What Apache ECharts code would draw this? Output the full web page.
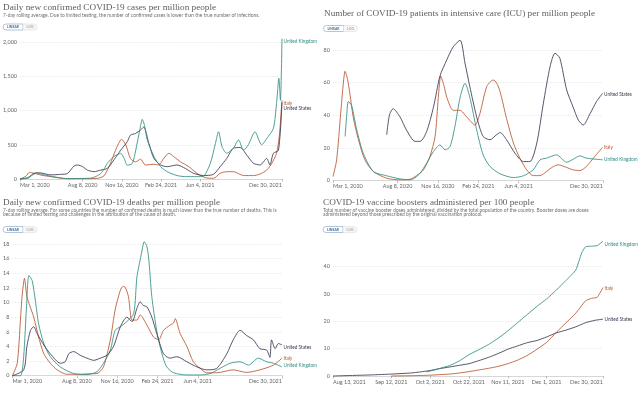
<!DOCTYPE html>
<html><head><meta charset="utf-8">
<script src="https://cdn.jsdelivr.net/npm/echarts@6/dist/echarts.min.js"></script>
<style>html,body{margin:0;padding:0;background:#fff}#c{width:640px;height:395px}</style>
</head><body><div id="c"></div>
<script>
// ---- tick labels ----
const dayTicks = [0,160,260,360,460,669];
const dayTickLabels = ['Mar 1, 2020','Aug 8, 2020','Nov 16, 2020','Feb 24, 2021','Jun 4, 2021','Dec 30, 2021'];
const boostTicks = [0,30,50,70,90,110,139];
const boostTickLabels = ['Aug 13, 2021','Sep 12, 2021','Oct 2, 2021','Oct 22, 2021','Nov 11, 2021','Dec 1, 2021','Dec 30, 2021'];
const countries = ['United Kingdom','Italy','United States'];

// ---- cases per million ([days since Mar 1 2020, value]) ----
const casesUK = [[0,0],[20,10],[30,50],[36,73],[42,90],[55,70],[79,40],[100,20],[121,5],[150,8],[180,12],[195,40],[206,80],[215,150],[223,230],[240,330],[250,360],[257,375],[266,300],[274,200],[287,230],[299,520],[308,780],[312,870],[318,780],[325,570],[342,330],[359,180],[376,107],[401,50],[426,34],[452,34],[469,44],[486,230],[499,520],[507,690],[516,470],[528,375],[545,450],[558,570],[571,420],[583,500],[600,690],[617,500],[630,590],[647,740],[655,1100],[661,1470],[665,1150],[669,2050]];
const casesIT = [[0,0],[15,40],[24,97],[36,83],[55,55],[79,34],[100,15],[121,5],[160,5],[198,10],[215,50],[231,230],[244,420],[252,520],[259,580],[270,500],[282,300],[295,250],[308,290],[320,205],[342,215],[354,205],[367,300],[380,375],[392,330],[410,250],[431,180],[452,83],[473,20],[494,10],[511,83],[528,107],[545,107],[571,50],[596,50],[613,73],[630,130],[643,230],[655,375],[662,620],[669,1150]];
const casesUS = [[0,0],[20,20],[36,83],[50,90],[79,60],[104,68],[121,80],[138,190],[147,205],[160,180],[172,130],[189,107],[206,130],[223,155],[240,280],[257,420],[274,545],[282,640],[295,665],[308,715],[316,760],[329,520],[342,300],[359,205],[376,180],[401,205],[422,155],[443,83],[469,50],[494,68],[511,180],[528,300],[545,450],[562,460],[579,350],[596,230],[613,205],[630,300],[638,205],[647,375],[660,420],[669,1120]];

// ---- ICU patients per million ----
const icuUK = [[30,27],[34,40],[38,48.4],[46,46],[59,31],[75,16.7],[100,5.5],[133,2.9],[166,1],[191,0.4],[203,1.6],[216,4.5],[232,10.6],[249,17.8],[265,21.8],[278,18.8],[290,20.8],[302,33],[315,51],[327,59.6],[339,51],[356,31],[372,15.7],[389,8.6],[414,4.1],[447,1.8],[472,2.9],[496,6.5],[513,12.7],[529,13.7],[554,15.7],[579,11.2],[595,13],[612,15.1],[628,13.7],[668,12.7]];
const icuIT = [[0,2.4],[9,12.6],[19,41],[25,58],[30,67],[36,62],[42,53],[50,39],[63,25],[79,12.7],[100,5.5],[133,1.4],[166,0.4],[191,0.8],[207,3],[224,6.5],[240,14.7],[253,27],[261,51],[267,64],[275,58],[282,51],[298,43],[315,43],[331,39],[352,34],[364,41],[381,57.6],[397,61.6],[405,60],[414,54.5],[430,38],[447,23],[463,13.7],[480,6.5],[496,3],[513,3],[529,5.5],[546,8.6],[558,9.6],[579,8],[595,6.5],[612,6.1],[628,8.6],[645,13.7],[668,20.4]];
const icuUS = [[133,28],[137,36],[141,41],[149,44],[166,39],[182,31],[203,24],[216,24],[232,30],[249,45],[265,64],[282,74],[298,82],[315,86],[327,72],[339,57.6],[356,39],[372,27],[389,25],[405,28],[414,29.4],[430,25],[451,16.7],[472,11.6],[488,11.6],[505,23],[521,47],[538,70],[550,78],[562,75],[579,55.5],[595,45],[608,37],[620,34],[637,41],[653,48.4],[668,53.5]];

// ---- deaths per million ----
const deathsUK = [[0,0],[20,0],[28,2.6],[35,9.4],[41,13.7],[49,13],[57,10.3],[65,7.1],[78,4.4],[94,2.6],[119,1.2],[152,0.3],[185,0.15],[210,0.55],[226,1.7],[243,3.5],[255,6.2],[268,6.7],[284,7.4],[301,8.5],[309,13.5],[317,15.8],[323,17.5],[327,18.3],[333,17.8],[338,16.2],[346,10.8],[358,6.2],[371,3],[383,1.2],[400,0.4],[433,0.1],[466,0.1],[491,0.3],[515,1],[540,1.7],[565,1.9],[586,1.45],[610,2.4],[631,1.9],[648,1.7],[669,1.2]];
const deathsIT = [[0,0],[12,1.7],[20,7.6],[24,10.8],[30,13.3],[36,10.8],[43,9.6],[53,8],[65,5.3],[78,3],[94,1.7],[111,0.8],[135,0.2],[168,0.2],[185,0.25],[210,0.3],[226,1.2],[243,4.9],[255,9],[268,11.7],[275,12.2],[280,12.1],[288,10.8],[297,7.6],[309,7.6],[317,8.3],[334,6.9],[350,5.3],[363,4.9],[375,6.2],[391,6.9],[400,7.2],[404,7.8],[416,5.8],[433,4],[449,1.9],[466,1],[482,0.4],[507,0.4],[548,0.8],[581,0.45],[614,0.8],[648,1.45],[669,2.4]];
const deathsUS = [[0,0],[28,0.8],[36,4],[45,6.2],[53,6.7],[61,5.8],[78,4.2],[94,3],[119,1.7],[131,1.9],[140,3],[152,3.3],[168,2.8],[185,2.4],[202,2.1],[218,2.4],[235,2.8],[251,4],[268,6.7],[284,8],[297,7.4],[309,9.2],[317,10.1],[325,9.6],[334,9.4],[346,8],[358,5.8],[375,3],[391,2.4],[408,2.6],[433,1.9],[458,1.2],[482,0.8],[507,1],[532,3],[548,4.9],[565,6.2],[581,5.5],[598,4.9],[614,3.7],[631,3.5],[639,2.5],[643,4.9],[652,3.7],[660,4.4],[669,4.2]];

// ---- boosters per 100 people ([days since Aug 13 2021, value]) ----
const boostUK = [[48,1.5],[50,1.8],[55,2.8],[60,3.8],[65,5.5],[70,7.8],[75,9.6],[80,11.5],[85,13.8],[90,16.5],[95,19.5],[100,22.5],[105,25.5],[110,28.2],[115,31.5],[120,35],[125,38.8],[128,45],[130,47.3],[133,47.5],[136,47.7],[139,49.3]];
const boostIT = [[30,0],[40,0.1],[50,0.3],[55,0.5],[60,0.7],[65,1.1],[70,1.6],[75,2.2],[80,2.8],[85,3.5],[90,4.5],[95,5.8],[100,7.5],[105,9.8],[110,12.3],[115,16],[120,19.5],[125,23],[130,27.5],[133,28.4],[136,28.8],[139,32.4]];
const boostUS = [[0,0],[10,0.2],[20,0.4],[30,0.7],[40,1.1],[45,1.5],[50,2],[55,2.7],[60,3.3],[65,3.9],[70,4.5],[75,5.6],[80,6.8],[85,8.2],[90,9.8],[95,11],[100,12.2],[105,13],[110,14.3],[115,15.8],[120,16.8],[125,18],[130,19.5],[135,20.4],[139,20.8]];

// ---- styling ----
const COL = {'United Kingdom':'#2f8f83','Italy':'#b9552f','United States':'#3b3850'};
const TITLE_FONT = '9.2px "Liberation Serif"';
const SUB_FONT = '4.9px Lato';
const AXIS_FS = 5.5;

const grids = [
  {left:19, top:42, width:263, height:137},
  {left:333, top:50, width:270, height:130.5},
  {left:12, top:244, width:270, height:131.7},
  {left:333, top:266.7, width:270, height:109.3}
];

function xAxisFor(i, max, ticks, labels){
  return {
    type:'value', gridIndex:i, min:0, max:max,
    axisLine:{show:true, lineStyle:{color:'#cfcfcf', width:0.8}},
    axisTick:{show:true, customValues:ticks, length:2.5, lineStyle:{color:'#999', width:0.6}},
    splitLine:{show:false},
    axisLabel:{customValues:ticks, fontSize:AXIS_FS, color:'#666', fontFamily:'Lato', margin:3,
      alignMinLabel:'left', alignMaxLabel:'right',
      formatter:(v)=>{const k=ticks.indexOf(v); return k>=0?labels[k]:'';}}
  };
}
function yAxisFor(i, max, interval, fmt){
  return {
    type:'value', gridIndex:i, min:0, max:max, interval:interval,
    axisLine:{show:false}, axisTick:{show:false},
    splitLine:{show:true, lineStyle:{color:'#d8d8d8', type:[1,1.5], width:0.7}},
    axisLabel:{fontSize:AXIS_FS, color:'#666', fontFamily:'Lato', margin:3, formatter:fmt}
  };
}
function line(name, i, data, off, extra){
  return Object.assign({
    type:'line', name:name, xAxisIndex:i, yAxisIndex:i, data:data,
    showSymbol:false, smooth:0.25, clip:false, animation:false,
    lineStyle:{color:COL[name], width:0.85}, itemStyle:{color:COL[name]},
    endLabel:{show:true, formatter:name, fontSize:4.7, fontFamily:'Lato', color:COL[name], distance:1.5, offset:off}
  }, extra||{});
}

function titleBlock(x, y, title, subs){
  const els = [{type:'text', left:x, top:y, style:{text:title, font:TITLE_FONT, fill:'#606060'}}];
  subs.forEach((s,k)=>els.push({type:'text', left:x, top:y+9.5+k*4.4, style:{text:s, font:SUB_FONT, fill:'#6f6f6f'}}));
  return els;
}
function buttons(x, y){
  return [
    {type:'rect', shape:{x:x, y:y, width:20, height:6, r:[3,0,0,3]}, style:{fill:'#fff', stroke:'#7f9fc0', lineWidth:0.6}},
    {type:'text', style:{text:'LINEAR', x:x+10, y:y+3.1, font:'bold 3.4px Lato', fill:'#3f6d9e', textAlign:'center', textVerticalAlign:'middle'}},
    {type:'rect', shape:{x:x+20, y:y, width:14, height:6, r:[0,3,3,0]}, style:{fill:'#f7f7f7', stroke:'#dddddd', lineWidth:0.6}},
    {type:'text', style:{text:'LOG', x:x+27, y:y+3.1, font:'3.4px Lato', fill:'#888', textAlign:'center', textVerticalAlign:'middle'}}
  ];
}

const graphic = [].concat(
  titleBlock(3, 3, 'Daily new confirmed COVID-19 cases per million people',
    ['7-day rolling average. Due to limited testing, the number of confirmed cases is lower than the true number of infections.']),
  buttons(3, 24),
  titleBlock(324, 9, 'Number of COVID-19 patients in intensive care (ICU) per million people', []),
  buttons(323.5, 25.5),
  titleBlock(3, 198, 'Daily new confirmed COVID-19 deaths per million people',
    ['7-day rolling average. For some countries the number of confirmed deaths is much lower than the true number of deaths. This is',
     'because of limited testing and challenges in the attribution of the cause of death.']),
  buttons(3, 226.5),
  titleBlock(323, 198.5, 'COVID-19 vaccine boosters administered per 100 people',
    ['Total number of vaccine booster doses administered, divided by the total population of the country. Booster doses are doses',
     'administered beyond those prescribed by the original vaccination protocol.']),
  buttons(323, 226.5)
);

const chart = echarts.init(document.getElementById('c'), null, {renderer:'canvas'});
chart.setOption({
  animation:false,
  backgroundColor:'#fff',
  grid:grids,
  xAxis:[
    xAxisFor(0, 669, dayTicks, dayTickLabels),
    xAxisFor(1, 669, dayTicks, dayTickLabels),
    xAxisFor(2, 669, dayTicks, dayTickLabels),
    xAxisFor(3, 139, boostTicks, boostTickLabels)
  ],
  yAxis:[
    yAxisFor(0, 2000, 500, (v)=>v.toLocaleString('en-US')),
    yAxisFor(1, 80, 20),
    yAxisFor(2, 18, 2),
    yAxisFor(3, 40, 10)
  ],
  series:[
    line('Italy', 0, casesIT, [0,3.5]),
    line('United States', 0, casesUS, [0,6]),
    line('United Kingdom', 0, casesUK, [0,2.5]),
    line('Italy', 1, icuIT, [0,0]),
    line('United Kingdom', 1, icuUK, [0,0]),
    line('United States', 1, icuUS, [0,1]),
    line('Italy', 2, deathsIT, [0,0]),
    line('United Kingdom', 2, deathsUK, [0,-1.5]),
    line('United States', 2, deathsUS, [0,3]),
    line('Italy', 3, boostIT, [0,1], {smooth:0.15}),
    line('United States', 3, boostUS, [0,0], {smooth:0.15}),
    line('United Kingdom', 3, boostUK, [0,3], {smooth:0.15})
  ],
  graphic:graphic
});
</script></body></html>
